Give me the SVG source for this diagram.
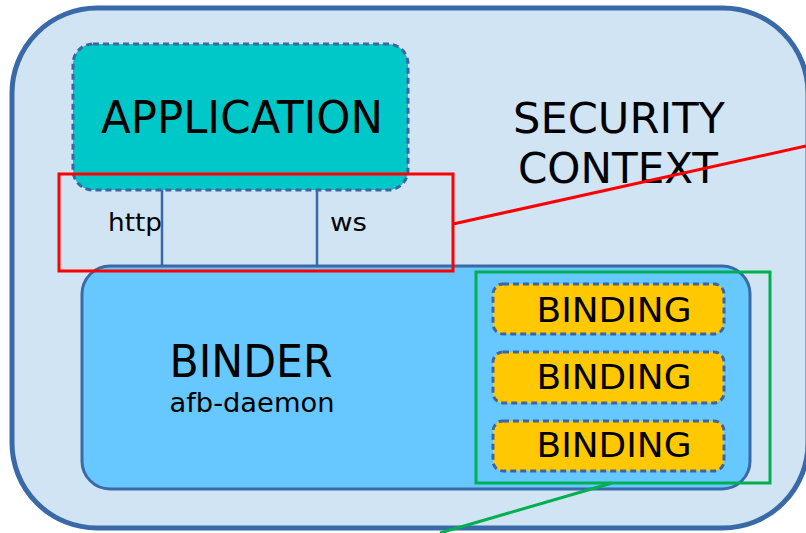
<svg xmlns="http://www.w3.org/2000/svg" width="806" height="533" viewBox="0 0 806 533">
  <style>
    .lbl { font-family: "DejaVu Sans", "Liberation Sans", sans-serif; fill: #000; }
    .dash { stroke: #3f64a3; stroke-width: 3; stroke-dasharray: 6 4; }
    .wire { stroke: #3a69a8; stroke-width: 2.5; fill: none; }
  </style>
  <rect width="806" height="533" fill="#ffffff"/>

  <g id="security-context">
    <rect x="12" y="8" width="796" height="520" rx="85" ry="85" fill="#d0e4f3" stroke="#3a69a8" stroke-width="5"/>
    <text class="lbl" x="619" y="133" font-size="42" text-anchor="middle" textLength="212" lengthAdjust="spacingAndGlyphs">SECURITY</text>
    <text class="lbl" x="618" y="183" font-size="42" text-anchor="middle" textLength="200" lengthAdjust="spacingAndGlyphs">CONTEXT</text>
  </g>

  <g id="application">
    <rect x="73" y="44" width="335" height="146" rx="20" ry="20" fill="#00c8c8" class="dash"/>
    <text class="lbl" x="242" y="133" font-size="45" text-anchor="middle" textLength="282" lengthAdjust="spacingAndGlyphs">APPLICATION</text>
  </g>

  <g id="connectors">
    <line class="wire" x1="162" y1="190" x2="162" y2="266"/>
    <line class="wire" x1="317" y1="190" x2="317" y2="266"/>
    <text class="lbl" x="108" y="231" font-size="25" textLength="54" lengthAdjust="spacingAndGlyphs">http</text>
    <text class="lbl" x="330" y="231" font-size="25" textLength="37" lengthAdjust="spacingAndGlyphs">ws</text>
  </g>

  <g id="binder">
    <rect x="82" y="266" width="668" height="223" rx="28" ry="28" fill="#66c8ff" stroke="#3a69a8" stroke-width="3"/>
    <text class="lbl" x="251" y="377" font-size="45" text-anchor="middle" textLength="163" lengthAdjust="spacingAndGlyphs">BINDER</text>
    <text class="lbl" x="252" y="412" font-size="26" text-anchor="middle" textLength="165" lengthAdjust="spacingAndGlyphs">afb-daemon</text>
  </g>

  <g id="binding-1">
    <rect x="493" y="284" width="231" height="50" rx="10" ry="10" fill="#ffc800" class="dash"/>
    <text class="lbl" x="614" y="322" font-size="34" text-anchor="middle" textLength="155" lengthAdjust="spacingAndGlyphs">BINDING</text>
  </g>
  <g id="binding-2">
    <rect x="493" y="352" width="231" height="51" rx="10" ry="10" fill="#ffc800" class="dash"/>
    <text class="lbl" x="614" y="389" font-size="34" text-anchor="middle" textLength="155" lengthAdjust="spacingAndGlyphs">BINDING</text>
  </g>
  <g id="binding-3">
    <rect x="493" y="421" width="231" height="50" rx="10" ry="10" fill="#ffc800" class="dash"/>
    <text class="lbl" x="614" y="457" font-size="34" text-anchor="middle" textLength="155" lengthAdjust="spacingAndGlyphs">BINDING</text>
  </g>

  <g id="highlights">
    <rect x="59" y="174" width="394" height="97" fill="none" stroke="#ff0000" stroke-width="3"/>
    <line x1="453" y1="224" x2="806" y2="146" stroke="#ff0000" stroke-width="3"/>
    <rect x="476" y="272" width="294" height="211" fill="none" stroke="#00b050" stroke-width="3"/>
    <line x1="612" y1="483" x2="440" y2="533" stroke="#00b050" stroke-width="3"/>
  </g>
</svg>
